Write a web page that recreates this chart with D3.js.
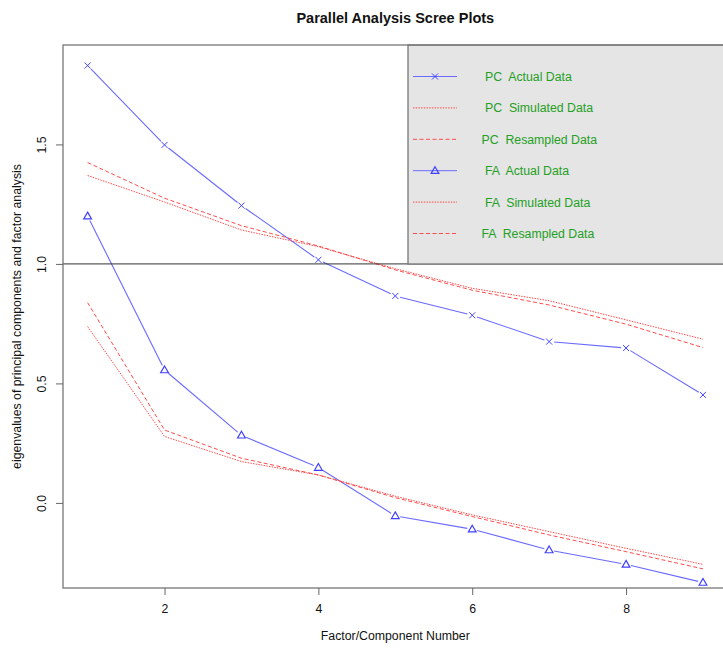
<!DOCTYPE html>
<html>
<head>
<meta charset="utf-8">
<script src="https://cdn.jsdelivr.net/npm/d3@7"></script>
<style>
  html, body { margin: 0; padding: 0; background: #fff; }
  svg { display: block; font-family: "Liberation Sans", Arial, sans-serif; }
  text { white-space: pre; }
</style>
</head>
<body>
<svg id="chart" width="723" height="649"></svg>
<script>
// ---- data ----
const factors = [1, 2, 3, 4, 5, 6, 7, 8, 9];
const pcActual    = [1.830, 1.498, 1.244, 1.017, 0.866, 0.785, 0.675, 0.648, 0.452];
const pcSimulated = [1.370, 1.259, 1.142, 1.072, 0.980, 0.898, 0.846, 0.766, 0.685];
const pcResampled = [1.424, 1.275, 1.160, 1.075, 0.975, 0.890, 0.828, 0.748, 0.650];
const faActual    = [1.200, 0.556, 0.283, 0.148, -0.054, -0.110, -0.197, -0.257, -0.333];
const faSimulated = [0.738, 0.278, 0.173, 0.117, 0.028, -0.050, -0.120, -0.190, -0.257];
const faResampled = [0.838, 0.305, 0.187, 0.117, 0.022, -0.057, -0.134, -0.204, -0.276];
const xTicks = [2, 4, 6, 8];
const yTicks = [0.0, 0.5, 1.0, 1.5];
const legendLabels = ["PC  Actual Data", "PC  Simulated Data", "PC  Resampled Data",
                      "FA  Actual Data", "FA  Simulated Data", "FA  Resampled Data"];
const titleText = "Parallel Analysis Scree Plots";
const xLabel = "Factor/Component Number";
const yLabel = "eigenvalues of principal components and factor analysis";

// ---- layout ----
const svg = d3.select("#chart");
const plot = { left: 63, right: 727.6, top: 45, bottom: 588 };
const x = d3.scaleLinear().domain([0.68, 9.32]).range([plot.left, plot.right]);
const y = d3.scaleLinear().domain([-0.356, 1.916]).range([plot.bottom, plot.top]);

const blueLine = "#6a6aff", blueMark = "#4040ff", red = "#ff4a4a";
const dotted = "1.5,1.2", dashed = "4,2.5";
const green = "#24a024";

// title
svg.append("text").attr("x", (plot.left + plot.right) / 2).attr("y", 23)
  .attr("text-anchor", "middle").attr("font-weight", "bold").attr("font-size", 14.5)
  .attr("fill", "#111").text(titleText);

// clip
svg.append("clipPath").attr("id", "clip").append("rect")
  .attr("x", plot.left).attr("y", plot.top)
  .attr("width", plot.right - plot.left).attr("height", plot.bottom - plot.top);

const g = svg.append("g").attr("clip-path", "url(#clip)");

const line = d3.line().x((d, i) => x(factors[i])).y(d => y(d));

const series = [
  { v: pcActual,    color: blueLine, dash: null,   sym: "x" },
  { v: pcSimulated, color: red,      dash: dotted, sym: null },
  { v: pcResampled, color: red,      dash: dashed, sym: null },
  { v: faActual,    color: blueLine, dash: null,   sym: "tri" },
  { v: faSimulated, color: red,      dash: dotted, sym: null },
  { v: faResampled, color: red,      dash: dashed, sym: null }
];

const gap = 5; // R type="b": segments stop short of the points
series.forEach(s => {
  if (s.sym) {
    for (let i = 0; i < s.v.length - 1; i++) {
      const x0 = x(factors[i]), y0 = y(s.v[i]), x1 = x(factors[i + 1]), y1 = y(s.v[i + 1]);
      const len = Math.hypot(x1 - x0, y1 - y0), ux = (x1 - x0) / len, uy = (y1 - y0) / len;
      g.append("line")
        .attr("x1", x0 + ux * gap).attr("y1", y0 + uy * gap)
        .attr("x2", x1 - ux * gap).attr("y2", y1 - uy * gap)
        .attr("stroke", s.color).attr("stroke-width", 1.1);
    }
  } else {
    g.append("path").datum(s.v).attr("d", line)
      .attr("fill", "none").attr("stroke", s.color).attr("stroke-width", 1)
      .attr("stroke-dasharray", s.dash);
  }
});

function drawSym(sel, type, cx, cy) {
  if (type === "x") {
    const r = 3;
    sel.append("path")
      .attr("d", `M${cx - r},${cy - r}L${cx + r},${cy + r}M${cx - r},${cy + r}L${cx + r},${cy - r}`)
      .attr("stroke", blueMark).attr("stroke-width", 1).attr("fill", "none");
  } else if (type === "tri") {
    sel.append("path")
      .attr("d", d3.symbol().type(d3.symbolTriangle).size(26)())
      .attr("transform", `translate(${cx},${cy + 0.5})`)
      .attr("stroke", blueMark).attr("stroke-width", 1.2).attr("fill", "none");
  }
}

series.filter(s => s.sym).forEach(s => {
  s.v.forEach((d, i) => drawSym(g, s.sym, x(factors[i]), y(d)));
});

// horizontal reference line at 1
svg.append("line").attr("x1", plot.left).attr("x2", plot.right)
  .attr("y1", y(1)).attr("y2", y(1)).attr("stroke", "#333").attr("stroke-width", 1);

// legend
const lg = svg.append("g");
const lgLeft = 408, lgTop = plot.top, lgBottom = 264;
lg.append("rect").attr("x", lgLeft).attr("y", lgTop)
  .attr("width", plot.right - lgLeft).attr("height", lgBottom - lgTop)
  .attr("fill", "#e5e5e5").attr("stroke", "#777").attr("stroke-width", 1.3);
const rowY = d3.scaleLinear().domain([0, 5]).range([76.5, 233.5]);
const textX = [485, 485, 481.5, 485, 485, 481.5];
series.forEach((s, i) => {
  const yy = rowY(i);
  lg.append("line").attr("x1", 413).attr("x2", 457).attr("y1", yy).attr("y2", yy)
    .attr("stroke", s.color).attr("stroke-width", 1).attr("stroke-dasharray", s.dash);
  if (s.sym) drawSym(lg, s.sym, 435, yy);
  lg.append("text").attr("x", textX[i]).attr("y", yy + 4.5)
    .attr("font-size", 12.3).attr("fill", green).text(legendLabels[i]);
});

// box
svg.append("rect").attr("x", plot.left).attr("y", plot.top)
  .attr("width", plot.right - plot.left).attr("height", plot.bottom - plot.top)
  .attr("fill", "none").attr("stroke", "#777").attr("stroke-width", 1.3);

// axes
const xAxis = svg.append("g").attr("transform", `translate(0,${plot.bottom})`)
  .call(d3.axisBottom(x).tickValues(xTicks).tickFormat(d3.format("d")).tickSize(7).tickPadding(9));
const yAxis = svg.append("g").attr("transform", `translate(${plot.left},0)`)
  .call(d3.axisLeft(y).tickValues(yTicks).tickFormat(d3.format(".1f")).tickSize(7).tickPadding(0));
[xAxis, yAxis].forEach(a => {
  a.select(".domain").remove();
  a.selectAll(".tick line").attr("stroke", "#666");
  a.selectAll("text").attr("font-size", 12.3).attr("fill", "#111")
    .attr("font-family", "Liberation Sans, Arial, sans-serif");
});
yAxis.selectAll(".tick text")
  .attr("x", null).attr("dy", null)
  .attr("text-anchor", "middle")
  .attr("transform", "translate(-17,0) rotate(-90)")
  .attr("y", 0);

// axis titles
svg.append("text").attr("x", (plot.left + plot.right) / 2).attr("y", 640)
  .attr("text-anchor", "middle").attr("font-size", 12.3).attr("fill", "#111").text(xLabel);
svg.append("text")
  .attr("transform", `translate(21,${(plot.top + plot.bottom) / 2}) rotate(-90)`)
  .attr("text-anchor", "middle").attr("font-size", 12.3).attr("fill", "#111").text(yLabel);
</script>
</body>
</html>
